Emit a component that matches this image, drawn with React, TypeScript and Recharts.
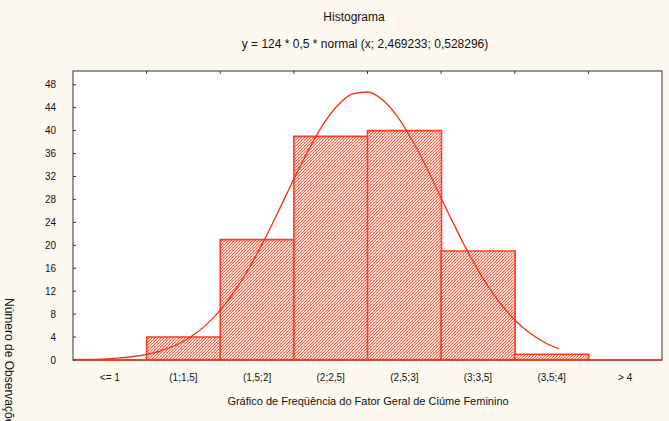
import React from 'react';
import { ComposedChart, Bar, Line, XAxis, YAxis, CartesianGrid, ReferenceLine } from 'recharts';

const categories = ['<= 1', '(1;1,5]', '(1,5;2]', '(2;2,5]', '(2,5;3]', '(3;3,5]', '(3,5;4]', '> 4'];
const counts = [0, 4, 21, 39, 40, 19, 1, 0];
const yTicks = [0, 4, 8, 12, 16, 20, 24, 28, 32, 36, 40, 44, 48];
const binEdges = [1, 1.5, 2, 2.5, 3, 3.5, 4];

const curveX = [0.5, 0.6, 0.7, 0.8, 0.9, 1.0, 1.1, 1.2, 1.3, 1.4, 1.5, 1.6, 1.7, 1.8, 1.9, 2.0, 2.1, 2.2, 2.3, 2.4, 2.5, 2.6, 2.7, 2.8, 2.9, 3.0, 3.1, 3.2, 3.3, 3.4, 3.5, 3.6, 3.7, 3.8];
const curveY = [0.05, 0.09, 0.17, 0.32, 0.57, 0.98, 1.63, 2.61, 4.04, 6.04, 8.7, 12.1, 16.22, 20.99, 26.21, 31.56, 36.67, 41.12, 44.48, 46.42, 46.74, 45.41, 42.56, 38.49, 33.57, 28.26, 22.95, 17.98, 13.6, 9.92, 6.98, 4.74, 3.1, 1.96];

const barData = categories.map((c, i) => ({ cat: c, count: counts[i] }));
const curveData = curveX.map((x, i) => ({ x, y: curveY[i] }));

const FONT = '"Liberation Sans", Arial, sans-serif';
const Y_MAX = 50.4;

export default function App() {
  return (
    <div style={{ position: 'absolute', left: 0, top: 0, width: 669, height: 421, background: '#FDF9F1', overflow: 'hidden', fontFamily: FONT }}>
      <div style={{ position: 'absolute', left: 0, top: 10, width: 708, textAlign: 'center', fontSize: 12, color: '#111' }}>Histograma</div>
      <div style={{ position: 'absolute', left: 0, top: 37, width: 730, textAlign: 'center', fontSize: 12, color: '#111' }}>y = 124 * 0,5 * normal (x; 2,469233; 0,528296)</div>
      <div style={{ position: 'absolute', left: 0, top: 395, width: 736, textAlign: 'center', fontSize: 11, color: '#111' }}>Gráfico de Freqüência do Fator Geral de Ciúme Feminino</div>
      <div style={{ position: 'absolute', left: 16, top: 298, fontSize: 12, color: '#111', transform: 'rotate(90deg)', transformOrigin: '0 0', whiteSpace: 'nowrap' }}>Número de Observações</div>
      <div style={{ position: 'absolute', left: 0, top: 0 }}>
        <ComposedChart width={669} height={421} data={barData} barCategoryGap={0} barGap={0}
          margin={{ top: 71, right: 7, bottom: 31, left: 13 }}>
          <defs>
            <pattern id="hatch" width="3" height="3" patternUnits="userSpaceOnUse">
              <rect width="3" height="3" fill="#FFE2DA" />
              <rect x="0" y="0" width="1" height="1" fill="#FF5E48" />
              <rect x="1" y="2" width="1" height="1" fill="#FF5E48" />
              <rect x="2" y="1" width="1" height="1" fill="#FF5E48" />
              <rect x="1" y="1" width="1" height="1" fill="#FFA898" />
            </pattern>
          </defs>
          <rect x={73} y={71} width={589} height={289} fill="#FFFFFF" />
          <CartesianGrid vertical={false} stroke="#BDBDBD" strokeDasharray="1 3" />
          <XAxis xAxisId="cat" dataKey="cat" type="category" tickLine={false} axisLine={false} height={30}
            tick={{ fontSize: 10, fill: '#111', fontFamily: FONT }} tickMargin={8} interval={0} />
          <XAxis xAxisId="num" dataKey="x" type="number" domain={[0.5, 4.5]} hide allowDataOverflow />
          <YAxis domain={[0, Y_MAX]} ticks={yTicks} width={60} tickLine={false} axisLine={false}
            tick={{ fontSize: 10, fill: '#111', fontFamily: FONT }} tickMargin={11} interval={0} allowDataOverflow />
          <Bar xAxisId="cat" dataKey="count" fill="url(#hatch)" stroke="#FF3A1E" strokeWidth={1.6} isAnimationActive={false} />
          <Line xAxisId="num" data={curveData} dataKey="y" type="monotone" stroke="#FF2A10" strokeWidth={1.3} dot={false} isAnimationActive={false} />
          <ReferenceLine xAxisId="cat" y={0} stroke="#E8341C" strokeWidth={1.5} />
          {binEdges.map((e) => (
            <ReferenceLine key={'t' + e} xAxisId="num" segment={[{ x: e, y: Y_MAX }, { x: e, y: Y_MAX - 0.5 }]} stroke="#333" strokeWidth={1} ifOverflow="visible" />
          ))}
          {yTicks.map((v) => (
            <ReferenceLine key={'y' + v} xAxisId="num" segment={[{ x: 0.5, y: v }, { x: 0.52, y: v }]} stroke="#333" strokeWidth={1} ifOverflow="visible" />
          ))}
          <rect x={73} y={71} width={589} height={289} fill="none" stroke="#333" strokeWidth={1} />
        </ComposedChart>
      </div>
    </div>
  );
}
